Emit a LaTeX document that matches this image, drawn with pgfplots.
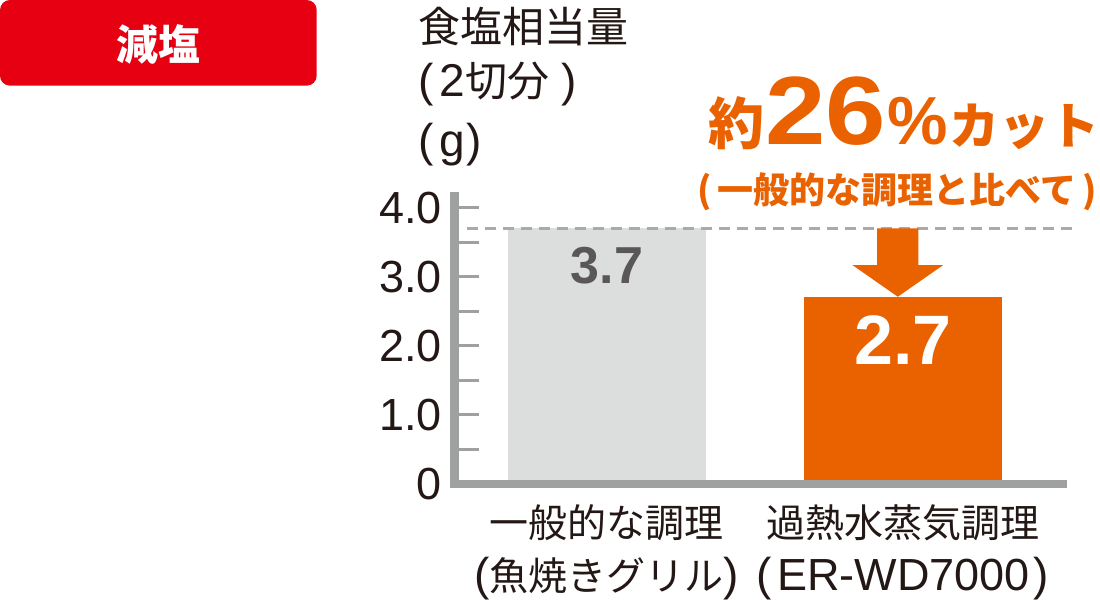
\documentclass[border=0pt]{standalone}
\usepackage{fontspec}
\usepackage{pgfplots}
\pgfplotsset{compat=1.18}
\setmainfont{Liberation Sans}
\newfontfamily\jp{Noto Sans CJK JP}
\newfontfamily\bigdig{Liberation Sans}[FakeStretch=1.12]
\definecolor{txt}{RGB}{35,24,21}
\definecolor{orng}{RGB}{234,97,0}
\definecolor{tagred}{RGB}{230,0,18}
\definecolor{axgray}{RGB}{159,160,160}
\definecolor{dashgray}{RGB}{170,170,170}
\definecolor{bargray}{RGB}{220,221,221}
\definecolor{valgray}{RGB}{89,87,87}
% Latin parentheses set a little larger than the Japanese text
\newcommand{\lp}{{\rmfamily\fontsize{46bp}{46bp}\selectfont(}}
\newcommand{\rp}{{\rmfamily\fontsize{46bp}{46bp}\selectfont)}}
\begin{document}
\begin{tikzpicture}[x=1bp,y=1bp]
\path[use as bounding box] (0,0) rectangle (1100,600);

% red tag
\fill[tagred, rounded corners=10bp] (0,514.3) rectangle (316.7,600);
\node[anchor=base, inner sep=0pt, text=white, font=\jp\bfseries\fontsize{42bp}{42bp}\selectfont] at (158,539.5) {減塩};

% y axis title
\begin{scope}[every node/.style={anchor=base west, inner sep=0pt, text=txt, font=\jp\fontsize{42bp}{42bp}\selectfont}]
\node at (418,557.5) {食塩相当量};
\node at (418,503) {\lp\kern6bp{\rmfamily\fontsize{46bp}{46bp}\selectfont 2}切分\kern12bp\rp};
\node at (418,443) {\lp\kern6bp{\rmfamily\fontsize{46bp}{46bp}\selectfont g}\kern1bp\rp};
\end{scope}

\begin{axis}[
    at={(454.5bp,116bp)}, anchor=south west,
    scale only axis, width=608bp, height=287.75bp,
    xmin=-0.5152, xmax=1.539, ymin=0, ymax=4.1643,
    axis x line=bottom, axis y line=left,
    axis line style={-, line width=8.5bp, draw=axgray, line cap=rect},
    axis on top, clip=false,
    /pgf/number format/assume math mode=true,
    ytick={0,1,2,3,4}, yticklabels={0,1.0,2.0,3.0,4.0},
    minor ytick={0.5,1.5,2.5,3.5},
    tick align=inside,
    major tick length=24.2bp, minor tick length=24.2bp,
    tick style={line width=3bp, draw=axgray},
    yticklabel style={font=\fontsize{45bp}{45bp}\selectfont, text=txt, inner sep=0pt, xshift=-12.5bp},
    xtick={0,1},
    xtick style={draw=none},
    xticklabels={{一般的な調理\\\lp 魚焼きグリル\rp},
                 {過熱水蒸気調理\\\lp\kern5bp{\rmfamily\fontsize{45bp}{52.7bp}\selectfont ER-WD7000}\kern4bp\rp}},
    xticklabel style={font=\jp\fontsize{39bp}{52.7bp}\selectfont, text=txt, align=center, inner sep=0pt, yshift=-20.7bp},
]
% general cooking (grilled fish)
\addplot[ybar, bar width=197.4bp, bar shift=0pt, fill=bargray, draw=none,
    nodes near coords,
    every node near coord/.append style={anchor=north, inner sep=0pt, yshift=-18.7bp,
        font=\bfseries\fontsize{52bp}{52bp}\selectfont, text=valgray}]
    coordinates {(0,3.7)};
% superheated steam ER-WD7000
\addplot[ybar, bar width=197.4bp, bar shift=0pt, fill=orng, draw=none,
    nodes near coords,
    every node near coord/.append style={anchor=north, inner sep=0pt, yshift=-18.3bp,
        font=\bfseries\fontsize{70bp}{70bp}\selectfont, text=white}]
    coordinates {(1,2.7)};
% reference level
\addplot[line width=3bp, draw=dashgray, dash pattern=on 11bp off 7bp]
    coordinates {(-0.474,3.7) (1.587,3.7)};
% down arrow
\fill[orng] (axis cs:0.913,3.7) -- (axis cs:1.052,3.7) -- (axis cs:1.052,3.169)
    -- (axis cs:1.136,3.169) -- (axis cs:0.9825,2.71) -- (axis cs:0.829,3.169)
    -- (axis cs:0.913,3.169) -- cycle;
\end{axis}

% callout
\node[anchor=base, inner sep=0pt, text=orng] at (904,455)
  {\jp\bfseries\fontsize{56bp}{56bp}\selectfont 約\kern1bp{\bigdig\bfseries\fontsize{97bp}{97bp}\selectfont 26}\kern1bp{\rmfamily\bfseries\fontsize{68bp}{68bp}\selectfont\%}\kern2bp{\fontsize{50bp}{50bp}\selectfont カット}};
\node[anchor=base, inner sep=0pt, text=orng, font=\jp\bfseries\fontsize{36bp}{36bp}\selectfont] at (897,396.4) {(\kern6bp 一般的な調理と比べて\kern6bp)};
\end{tikzpicture}
\end{document}
